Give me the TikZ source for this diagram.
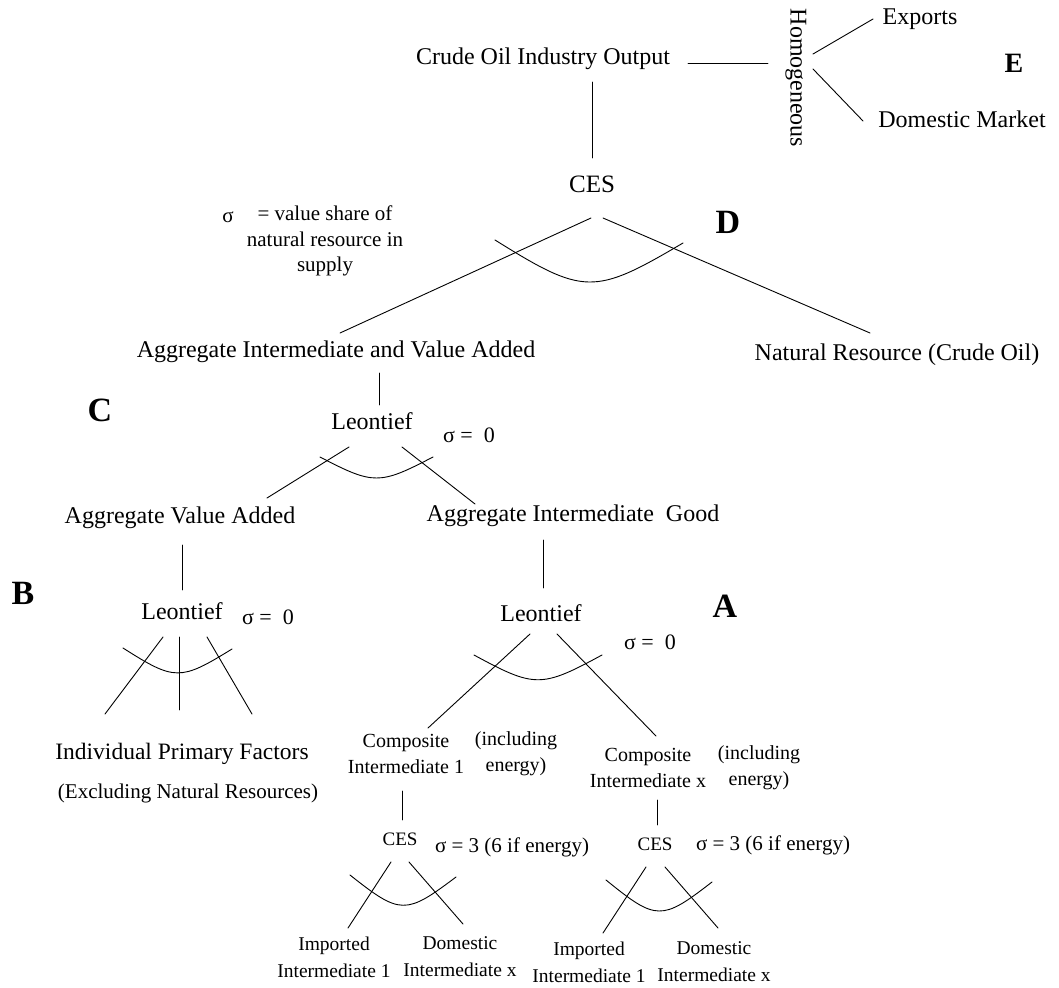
\documentclass[tikz,border=0pt]{standalone}
\usepackage{fontspec}
\setmainfont{Liberation Serif}
\begin{document}
\begin{tikzpicture}[x=1pt,y=-1pt,
  txt/.style={inner sep=0pt, anchor=mid, font=\fontsize{24}{29}\selectfont},
  sig/.style={inner sep=0pt, anchor=mid, font=\fontsize{22}{26}\selectfont},
  sigthree/.style={inner sep=0pt, anchor=mid, font=\fontsize{21}{25}\selectfont},
  mtxt/.style={inner sep=0pt, align=center, font=\fontsize{20}{26}\selectfont},
  btxt/.style={inner sep=0pt, align=center, font=\fontsize{19.5}{27}\selectfont},
  big/.style={inner sep=0pt, font=\fontsize{34}{40}\selectfont\bfseries},
  ln/.style={line width=0.9pt, line cap=round}]
\useasboundingbox (0,0) rectangle (1059,987);

% ---------- text nodes ----------
\node[txt] (crude) at (543,62) {Crude Oil Industry Output};
\node[txt, rotate=-90] (homog) at (793,78) {Homogeneous};
\node[txt] (exports) at (920,22) {Exports};
\node[txt] (dommkt) at (962,125) {Domestic Market};
\node[big, font=\fontsize{28}{32}\selectfont\bfseries] (labE) at (1014,63) {E};
\node[txt, font=\fontsize{25}{30}\selectfont] (ces1) at (592,190) {CES};
\node[big] (labD) at (728,222) {D};
\node[sigthree] (sigone) at (228,220) {σ};
\node[inner sep=0pt, align=center, font=\fontsize{21}{25.5}\selectfont] (note) at (325,241) {= value share of\\natural resource in\\supply};
\node[txt] (aiva) at (336,355) {Aggregate Intermediate and Value Added};
\node[txt] (natres) at (897,358) {Natural Resource (Crude Oil)};
\node[big] (labC) at (100,410) {C};
\node[txt] (leonC) at (372,427) {Leontief};
\node[sig] (sigC) at (469,440) {σ =\ \ 0};
\node[txt] (ava) at (180,521) {Aggregate Value Added};
\node[txt] (aig) at (573,519) {Aggregate Intermediate\ \ Good};
\node[big] (labB) at (23,593) {B};
\node[txt] (leonB) at (182,617) {Leontief};
\node[sig] (sigB) at (268,622) {σ =\ \ 0};
\node[big] (labA) at (725,606) {A};
\node[txt] (leonA) at (541,619) {Leontief};
\node[sig] (sigA) at (650,647) {σ =\ \ 0};
\node[txt, font=\fontsize{23.5}{28}\selectfont] (ipf) at (182,757) {Individual Primary Factors};
\node[txt, font=\fontsize{21}{25}\selectfont] (excl) at (188,796) {(Excluding Natural Resources)};
\node[mtxt] (compone) at (406,754) {Composite\\Intermediate 1};
\node[mtxt] (inclone) at (516,754) {(including\\energy)};
\node[mtxt] (compx) at (648,768) {Composite\\Intermediate x};
\node[mtxt] (inclx) at (759,768) {(including\\energy)};
\node[txt, font=\fontsize{19}{23}\selectfont] (cesL) at (400,843) {CES};
\node[sigthree] (sigL) at (512,850) {σ = 3 (6 if energy)};
\node[txt, font=\fontsize{19}{23}\selectfont] (cesR) at (655,848) {CES};
\node[sigthree] (sigR) at (773,848) {σ = 3 (6 if energy)};
\node[btxt] (impone) at (334,957) {Imported\\Intermediate 1};
\node[btxt] (domone) at (460,957) {Domestic\\Intermediate x};
\node[btxt] (imptwo) at (589,962) {Imported\\Intermediate 1};
\node[btxt] (domtwo) at (714,962) {Domestic\\Intermediate x};

% ---------- connector end points ----------
\coordinate (crude-e) at (688,63);   \coordinate (homog-w) at (768,63);
\coordinate (crude-s) at (592,82);   \coordinate (ces1-n) at (592,158);
\coordinate (homog-a) at (813,54);   \coordinate (exports-w) at (873,19);
\coordinate (homog-b) at (813,69);   \coordinate (dommkt-w) at (863,121);
\coordinate (ces1-sw) at (591,218);  \coordinate (aiva-n) at (340,333);
\coordinate (ces1-se) at (603,218);  \coordinate (natres-n) at (870,333);
\coordinate (aiva-s) at (379,373);   \coordinate (leonC-n) at (379,405);
\coordinate (leonC-sw) at (349,447); \coordinate (ava-n) at (267,498);
\coordinate (leonC-se) at (402,447); \coordinate (aig-n) at (475,504);
\coordinate (ava-s) at (182,545);    \coordinate (leonB-n) at (182,590);
\coordinate (leonB-sw) at (163,637); \coordinate (ipf-a) at (105,714);
\coordinate (leonB-s) at (179,637);  \coordinate (ipf-b) at (179,710);
\coordinate (leonB-se) at (207,637); \coordinate (ipf-c) at (252,714);
\coordinate (aig-s) at (543,540);    \coordinate (leonA-n) at (543,588);
\coordinate (leonA-sw) at (530,634); \coordinate (compone-n) at (428,728);
\coordinate (leonA-se) at (557,634); \coordinate (compx-n) at (656,736);
\coordinate (compone-s) at (402,791); \coordinate (cesL-n) at (402,820);
\coordinate (compx-s) at (657,800);  \coordinate (cesR-n) at (657,825);
\coordinate (cesL-sw) at (391,862);  \coordinate (impone-n) at (348,928);
\coordinate (cesL-se) at (409,862);  \coordinate (domone-n) at (463,924);
\coordinate (cesR-sw) at (646,867);  \coordinate (imptwo-n) at (603,933);
\coordinate (cesR-se) at (665,867);  \coordinate (domtwo-n) at (718,928);

% ---------- connectors ----------
\draw[ln] (crude-e) -- (homog-w);
\draw[ln] (crude-s) -- (ces1-n);
\draw[ln] (homog-a) -- (exports-w);
\draw[ln] (homog-b) -- (dommkt-w);
\draw[ln] (ces1-sw) -- (aiva-n);
\draw[ln] (ces1-se) -- (natres-n);
\draw[ln] (aiva-s) -- (leonC-n);
\draw[ln] (leonC-sw) -- (ava-n);
\draw[ln] (leonC-se) -- (aig-n);
\draw[ln] (ava-s) -- (leonB-n);
\draw[ln] (leonB-sw) -- (ipf-a);
\draw[ln] (leonB-s) -- (ipf-b);
\draw[ln] (leonB-se) -- (ipf-c);
\draw[ln] (aig-s) -- (leonA-n);
\draw[ln] (leonA-sw) -- (compone-n);
\draw[ln] (leonA-se) -- (compx-n);
\draw[ln] (compone-s) -- (cesL-n);
\draw[ln] (compx-s) -- (cesR-n);
\draw[ln] (cesL-sw) -- (impone-n);
\draw[ln] (cesL-se) -- (domone-n);
\draw[ln] (cesR-sw) -- (imptwo-n);
\draw[ln] (cesR-se) -- (domtwo-n);

% ---------- substitution arcs ----------
\draw[ln] (495,240) .. controls (584,295.5) and (594,295.5) .. (683,243);
\draw[ln] (320,457) .. controls (373.7,485) and (379.3,485) .. (433,457);
\draw[ln] (123,648) .. controls (174.8,681) and (180.2,681) .. (232,649);
\draw[ln] (474,655) .. controls (534.8,688) and (541.2,688) .. (602,655);
\draw[ln] (350,875) .. controls (400.4,915) and (405.6,915) .. (456,877);
\draw[ln] (606,880) .. controls (656.4,921) and (661.6,921) .. (712,882);
\end{tikzpicture}
\end{document}
